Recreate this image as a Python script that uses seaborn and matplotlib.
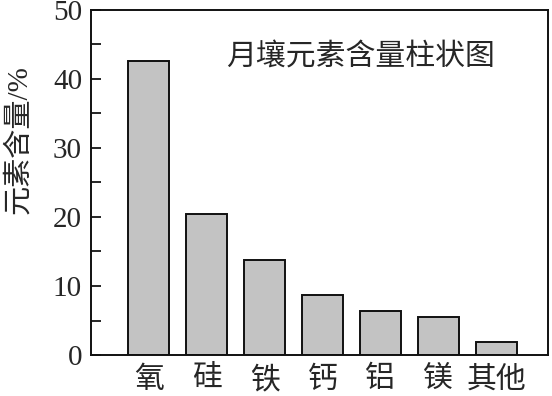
import matplotlib
matplotlib.use('Agg')
import matplotlib.pyplot as plt
import seaborn as sns
from matplotlib.ticker import MultipleLocator

# data
elements = ['氧', '硅', '铁', '钙', '铝', '镁', '其他']
content = [42.6, 20.4, 13.8, 8.7, 6.4, 5.55, 1.9]
title_text = '月壤元素含量柱状图'
ylabel_text = '元素含量/%'

sns.set_style('white')
plt.rcParams['font.family'] = ['Liberation Serif', 'Noto Sans CJK SC']

fig = plt.figure(figsize=(5.52, 3.96), dpi=100)
ax = fig.add_axes([0.165, 0.1035, 0.828, 0.8715])

sns.barplot(x=elements, y=content, color='#c3c3c3', saturation=1,
            edgecolor='#111111', linewidth=1.4, width=0.71, ax=ax)

ax.set_xlim(-1.0, 6.9)
ax.set_ylim(0, 50)
ax.yaxis.set_major_locator(MultipleLocator(10))
ax.yaxis.set_minor_locator(MultipleLocator(5))
ax.tick_params(axis='y', which='both', direction='in', length=7, width=1.4,
               labelsize=21, pad=6.5, left=True)
ax.tick_params(axis='x', length=0, labelsize=21.5, pad=8)

for s in ax.spines.values():
    s.set_linewidth(1.4)
    s.set_color('#111111')

ax.set_ylabel(ylabel_text, fontsize=21)
ax.yaxis.set_label_coords(-0.128, 0.624)
ax.text(0.589, 0.862, title_text, transform=ax.transAxes, fontsize=21.5,
        ha='center', va='center')

fig.savefig('out.png', dpi=100)
